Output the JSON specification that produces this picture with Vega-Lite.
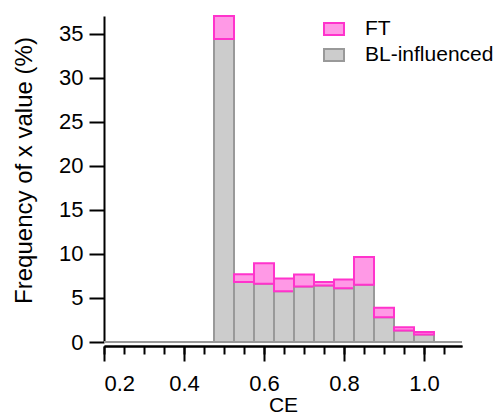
{
  "$schema": "https://vega.github.io/schema/vega-lite/v6.json",
  "width": 358,
  "height": 326,
  "autosize": {"type": "none"},
  "padding": {"left": 104, "top": 16, "right": 36, "bottom": 76},
  "background": "white",
  "config": {
    "font": "Liberation Sans",
    "view": {"stroke": null},
    "axis": {
      "grid": false,
      "domainColor": "black",
      "domainWidth": 2,
      "tickColor": "black",
      "tickWidth": 2,
      "labelColor": "black",
      "titleColor": "black",
      "labelFontSize": 22,
      "titleFontSize": 22,
      "titleFontWeight": "normal"
    },
    "legend": {"labelFontSize": 21, "labelColor": "black"}
  },
  "layer": [
    {
      "data": {
        "values": [
          {"lo": 0.475, "hi": 0.525, "series": "BL-influenced", "ord": 0, "value": 34.4},
          {"lo": 0.475, "hi": 0.525, "series": "FT", "ord": 1, "value": 2.6},
          {"lo": 0.525, "hi": 0.575, "series": "BL-influenced", "ord": 0, "value": 6.8},
          {"lo": 0.525, "hi": 0.575, "series": "FT", "ord": 1, "value": 0.9},
          {"lo": 0.575, "hi": 0.625, "series": "BL-influenced", "ord": 0, "value": 6.6},
          {"lo": 0.575, "hi": 0.625, "series": "FT", "ord": 1, "value": 2.35},
          {"lo": 0.625, "hi": 0.675, "series": "BL-influenced", "ord": 0, "value": 5.75},
          {"lo": 0.625, "hi": 0.675, "series": "FT", "ord": 1, "value": 1.45},
          {"lo": 0.675, "hi": 0.725, "series": "BL-influenced", "ord": 0, "value": 6.3},
          {"lo": 0.675, "hi": 0.725, "series": "FT", "ord": 1, "value": 1.37},
          {"lo": 0.725, "hi": 0.775, "series": "BL-influenced", "ord": 0, "value": 6.4},
          {"lo": 0.725, "hi": 0.775, "series": "FT", "ord": 1, "value": 0.4},
          {"lo": 0.775, "hi": 0.825, "series": "BL-influenced", "ord": 0, "value": 6.1},
          {"lo": 0.775, "hi": 0.825, "series": "FT", "ord": 1, "value": 1.0},
          {"lo": 0.825, "hi": 0.875, "series": "BL-influenced", "ord": 0, "value": 6.5},
          {"lo": 0.825, "hi": 0.875, "series": "FT", "ord": 1, "value": 3.15},
          {"lo": 0.875, "hi": 0.925, "series": "BL-influenced", "ord": 0, "value": 2.82},
          {"lo": 0.875, "hi": 0.925, "series": "FT", "ord": 1, "value": 1.08},
          {"lo": 0.925, "hi": 0.975, "series": "BL-influenced", "ord": 0, "value": 1.3},
          {"lo": 0.925, "hi": 0.975, "series": "FT", "ord": 1, "value": 0.38},
          {"lo": 0.975, "hi": 1.025, "series": "BL-influenced", "ord": 0, "value": 0.84},
          {"lo": 0.975, "hi": 1.025, "series": "FT", "ord": 1, "value": 0.3}
        ]
      },
      "transform": [
        {"stack": "value", "groupby": ["lo"], "sort": [{"field": "ord"}], "as": ["v0", "v1"]}
      ],
      "mark": {"type": "bar", "strokeWidth": 2},
      "encoding": {
        "x": {
          "field": "lo",
          "type": "quantitative",
          "scale": {"domain": [0.2, 1.095], "nice": false, "zero": false},
          "axis": {
            "orient": "bottom",
            "offset": 4,
            "values": [0.2, 0.4, 0.6, 0.8, 1.0],
            "format": ".1f",
            "tickSize": 15,
            "labelPadding": 12,
            "title": "CE",
            "titleFontSize": 21,
            "titlePadding": 0
          }
        },
        "x2": {"field": "hi"},
        "y": {
          "field": "v0",
          "type": "quantitative",
          "scale": {"domain": [0, 37], "nice": false},
          "axis": {
            "values": [0, 5, 10, 15, 20, 25, 30, 35],
            "tickSize": 15,
            "labelPadding": 6,
            "title": "Frequency of x value (%)",
            "titleFontSize": 24,
            "titlePadding": 22,
            "titleY": 154
          }
        },
        "y2": {"field": "v1"},
        "fill": {
          "field": "series",
          "type": "nominal",
          "scale": {"domain": ["FT", "BL-influenced"], "range": ["#FF99E6", "#CCCCCC"]},
          "legend": {
            "title": null,
            "orient": "none",
            "legendX": 219,
            "legendY": 2,
            "padding": 0,
            "symbolType": "M-1,-0.6H1V0.6H-1Z",
            "symbolSize": 400,
            "symbolStrokeWidth": 2,
            "labelOffset": 20,
            "rowPadding": 5
          }
        },
        "stroke": {
          "field": "series",
          "type": "nominal",
          "scale": {"domain": ["FT", "BL-influenced"], "range": ["#FF33CC", "#999999"]},
          "legend": {
            "title": null,
            "orient": "none",
            "legendX": 219,
            "legendY": 2,
            "padding": 0,
            "symbolType": "M-1,-0.6H1V0.6H-1Z",
            "symbolSize": 400,
            "symbolStrokeWidth": 2,
            "labelOffset": 20,
            "rowPadding": 5
          }
        }
      }
    },
    {
      "data": {"values": [{"a": 0.2, "b": 1.095, "y": 0}]},
      "mark": {"type": "rule", "color": "#999999", "strokeWidth": 2},
      "encoding": {
        "x": {
          "field": "a",
          "type": "quantitative",
          "axis": {
            "orient": "bottom",
            "offset": 4,
            "values": [0.2, 0.25, 0.3, 0.35, 0.4, 0.45, 0.5, 0.55, 0.6, 0.65, 0.7, 0.75, 0.8, 0.85, 0.9, 0.95, 1.0, 1.05],
            "tickSize": 8,
            "labels": false,
            "title": null
          }
        },
        "x2": {"field": "b"},
        "y": {"field": "y", "type": "quantitative"}
      }
    }
  ],
  "resolve": {"axis": {"x": "independent"}}
}
